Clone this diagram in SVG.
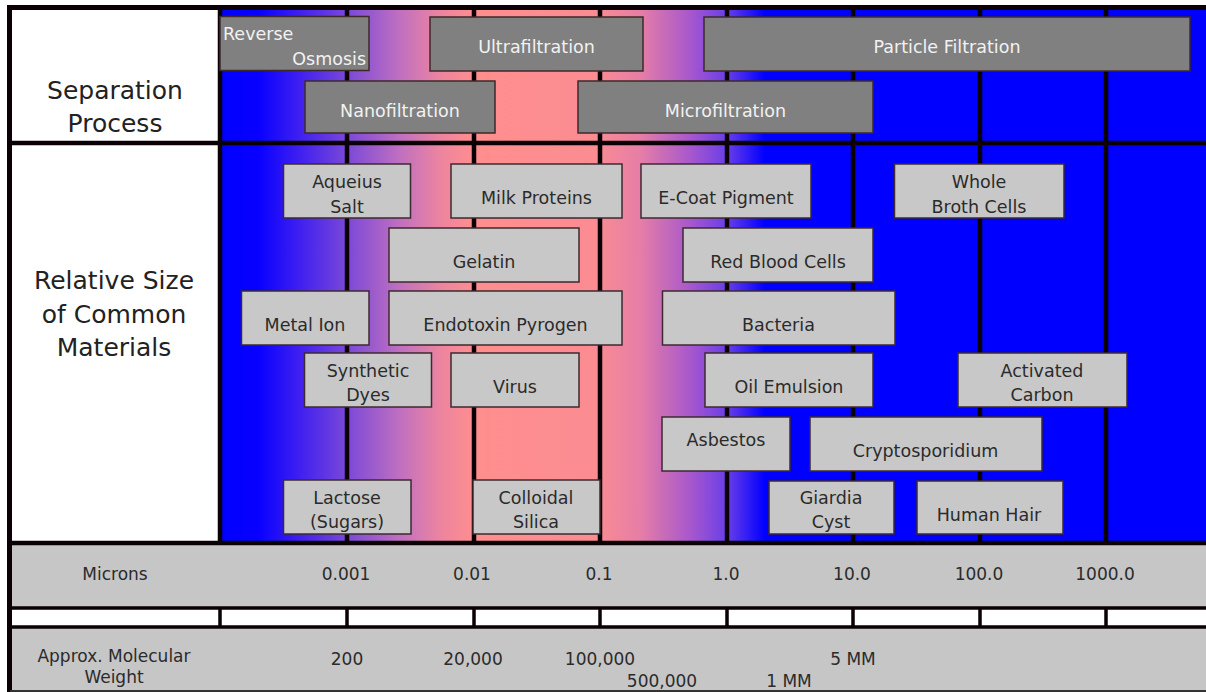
<svg xmlns="http://www.w3.org/2000/svg" width="1206" height="692" viewBox="0 0 1206 692">
<defs>
<linearGradient id="band" gradientUnits="userSpaceOnUse" x1="220" y1="0" x2="1206" y2="0">
<stop offset="0" stop-color="#0000ff"/>
<stop offset="0.0385" stop-color="#0800ff"/>
<stop offset="0.0812" stop-color="#4020f0"/>
<stop offset="0.1288" stop-color="#7a48d8"/>
<stop offset="0.1826" stop-color="#c070c0"/>
<stop offset="0.2231" stop-color="#ec84a0"/>
<stop offset="0.2576" stop-color="#ff8e8e"/>
<stop offset="0.3803" stop-color="#fa8c92"/>
<stop offset="0.4260" stop-color="#e67ea6"/>
<stop offset="0.4767" stop-color="#a858cc"/>
<stop offset="0.5142" stop-color="#6a3ee8"/>
<stop offset="0.5527" stop-color="#0000ff"/>
<stop offset="1" stop-color="#0000ff"/>
</linearGradient>
<style>
text{font-family:"DejaVu Sans","Liberation Sans",sans-serif;}
.sep rect{fill:#808080;stroke:#3c2a2a;stroke-width:1.5;}
.sep text{fill:#f2f2f2;font-size:17.5px;text-anchor:middle;}
.mat rect{fill:#c8c8c8;stroke:#3c2a30;stroke-width:1.5;}
.mat text{fill:#2b2b2b;font-size:17.5px;text-anchor:middle;}
.lbl{fill:#222;font-size:25px;text-anchor:middle;}
.ax{fill:#2b2b2b;font-size:17px;text-anchor:middle;}
.gl{stroke:#0a0005;stroke-width:4.5;fill:none;}
.tl{stroke:#0a0005;stroke-width:3.5;fill:none;}
</style>
</defs>
<rect x="0" y="0" width="1206" height="692" fill="#ffffff"/>
<g id="background">
<rect x="220" y="10" width="986" height="533" fill="url(#band)"/>
<rect x="10" y="10" width="210" height="533" fill="#ffffff"/>
<rect x="10" y="543" width="1196" height="64" fill="#c6c6c6"/>
<rect x="10" y="607" width="1196" height="21" fill="#ffffff"/>
<rect x="10" y="628" width="1196" height="64" fill="#c6c6c6"/>
</g>
<g id="grid">
<path class="gl" d="M347 10V543M474 10V543M600 10V543M727 10V543M853 10V543M980 10V543M1106 10V543"/>
<path class="gl" d="M220 10V543M10 143H1206M10 543H1206"/>
<path class="tl" d="M10 608H1206M10 627H1206M220 608V627M347 608V627M474 608V627M600 608V627M727 608V627M853 608V627M980 608V627M1106 608V627"/>
<path stroke="#0a0005" stroke-width="5" fill="none" d="M9.5 5V692M7 7.5H1206"/>
<path stroke="#333" stroke-width="2" fill="none" d="M10 691H1206"/>
</g>
<g id="labels">
<text class="lbl" x="115" y="99">Separation</text>
<text class="lbl" x="115" y="132">Process</text>
<text class="lbl" x="114" y="289">Relative Size</text>
<text class="lbl" x="114" y="323">of Common</text>
<text class="lbl" x="114" y="356">Materials</text>
</g>
<g id="sep-reverse-osmosis" class="sep"><rect x="220" y="16.5" width="149" height="54"/><text x="223" y="40" style="text-anchor:start">Reverse</text><text x="366" y="65" style="text-anchor:end">Osmosis</text></g>
<g id="sep-ultrafiltration" class="sep"><rect x="430" y="17" width="213" height="54"/><text x="536.5" y="53">Ultrafiltration</text></g>
<g id="sep-particle-filtration" class="sep"><rect x="704" y="17" width="486" height="54"/><text x="947" y="53">Particle Filtration</text></g>
<g id="sep-nanofiltration" class="sep"><rect x="305" y="81" width="190" height="52"/><text x="400" y="117">Nanofiltration</text></g>
<g id="sep-microfiltration" class="sep"><rect x="578" y="81" width="295" height="52"/><text x="725.5" y="117">Microfiltration</text></g>
<g id="mat-aqueius-salt" class="mat"><rect x="283.5" y="164" width="127" height="54"/><text x="347" y="188">Aqueius</text><text x="347" y="213">Salt</text></g>
<g id="mat-milk-proteins" class="mat"><rect x="451" y="164" width="171" height="54"/><text x="536.5" y="204">Milk Proteins</text></g>
<g id="mat-e-coat-pigment" class="mat"><rect x="641" y="164" width="170" height="54"/><text x="726" y="204">E-Coat Pigment</text></g>
<g id="mat-whole-broth-cells" class="mat"><rect x="894.5" y="164" width="169.5" height="54"/><text x="979" y="188">Whole</text><text x="979" y="213">Broth Cells</text></g>
<g id="mat-gelatin" class="mat"><rect x="389" y="228" width="190" height="54"/><text x="484" y="268">Gelatin</text></g>
<g id="mat-red-blood-cells" class="mat"><rect x="683" y="228" width="190" height="54"/><text x="778" y="268">Red Blood Cells</text></g>
<g id="mat-metal-ion" class="mat"><rect x="241.5" y="291" width="127.5" height="54"/><text x="305" y="331">Metal Ion</text></g>
<g id="mat-endotoxin-pyrogen" class="mat"><rect x="389" y="291" width="233" height="54"/><text x="505.5" y="331">Endotoxin Pyrogen</text></g>
<g id="mat-bacteria" class="mat"><rect x="662.5" y="291" width="232.5" height="54"/><text x="778.5" y="331">Bacteria</text></g>
<g id="mat-synthetic-dyes" class="mat"><rect x="304.5" y="353" width="127" height="54"/><text x="368" y="377">Synthetic</text><text x="368" y="401">Dyes</text></g>
<g id="mat-virus" class="mat"><rect x="451" y="353" width="128" height="54"/><text x="515" y="393">Virus</text></g>
<g id="mat-oil-emulsion" class="mat"><rect x="705" y="353" width="168" height="54"/><text x="789" y="393">Oil Emulsion</text></g>
<g id="mat-activated-carbon" class="mat"><rect x="958" y="353" width="169" height="54"/><text x="1042" y="377">Activated</text><text x="1042" y="401">Carbon</text></g>
<g id="mat-asbestos" class="mat"><rect x="662" y="417" width="128" height="54"/><text x="726" y="446">Asbestos</text></g>
<g id="mat-cryptosporidium" class="mat"><rect x="810" y="417" width="232" height="54"/><text x="925.5" y="457">Cryptosporidium</text></g>
<g id="mat-lactose" class="mat"><rect x="283.5" y="480" width="127.5" height="54"/><text x="347" y="504">Lactose</text><text x="347" y="528">(Sugars)</text></g>
<g id="mat-colloidal-silica" class="mat"><rect x="473" y="480" width="127" height="54"/><text x="536" y="504">Colloidal</text><text x="536" y="528">Silica</text></g>
<g id="mat-giardia-cyst" class="mat"><rect x="769" y="481" width="125" height="53"/><text x="831" y="504">Giardia</text><text x="831" y="528">Cyst</text></g>
<g id="mat-human-hair" class="mat"><rect x="917" y="481" width="146" height="53"/><text x="989" y="521">Human Hair</text></g>
<g id="axis-microns">
<text class="ax" x="115" y="580">Microns</text>
<text class="ax" x="346" y="580">0.001</text>
<text class="ax" x="472" y="580">0.01</text>
<text class="ax" x="599" y="580">0.1</text>
<text class="ax" x="726" y="580">1.0</text>
<text class="ax" x="852" y="580">10.0</text>
<text class="ax" x="979" y="580">100.0</text>
<text class="ax" x="1105" y="580">1000.0</text>
</g>
<g id="axis-weight">
<text class="ax" x="114" y="662">Approx. Molecular</text>
<text class="ax" x="114" y="683">Weight</text>
<text class="ax" x="347" y="665">200</text>
<text class="ax" x="473" y="665">20,000</text>
<text class="ax" x="600" y="665">100,000</text>
<text class="ax" x="853" y="665">5 MM</text>
<text class="ax" x="662" y="687">500,000</text>
<text class="ax" x="789" y="687">1 MM</text>
</g>
</svg>
